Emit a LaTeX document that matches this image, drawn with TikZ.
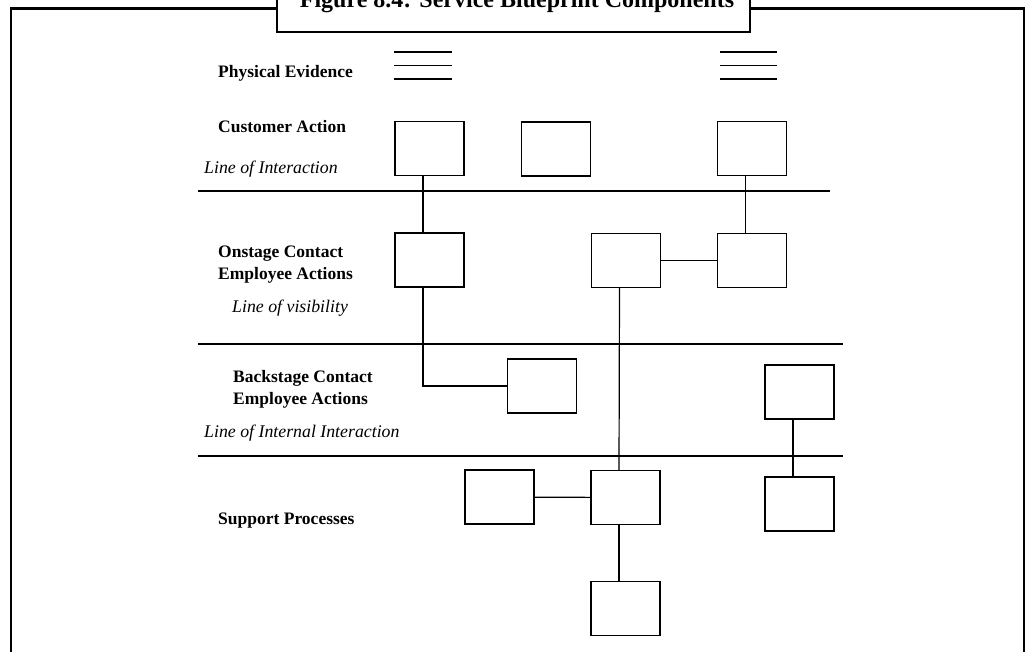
\documentclass[tikz,border=0pt]{standalone}
\usepackage{fontspec}
\setmainfont{Liberation Serif}
\usetikzlibrary{positioning}

\begin{document}
\begin{tikzpicture}[x=1pt,y=-1pt,
    blk/.style={draw,rectangle,line width=1.2pt,minimum width=69pt,minimum height=54pt,inner sep=0pt},
    lbl/.style={font=\fontsize{17.5}{21.5}\selectfont\bfseries,align=left,anchor=base west,inner sep=0pt},
    ital/.style={font=\fontsize{17.8}{21}\selectfont\itshape,anchor=base west,inner sep=0pt},
    sep/.style={line width=1.2pt}]
	  \useasboundingbox (0,0) rectangle (1027,651);
	  % frame and title
	  \draw[line width=2.2pt] (11,700) -- (11,8.5) -- (1024,8.5) -- (1024,700);
	  \draw[line width=2.2pt,fill=white] (277,-20) rectangle (750,32);
	  \node at (517,7) (title) [anchor=base,inner sep=0pt,font=\fontsize{24}{28}\selectfont\bfseries]{Figure 8.4: Service Blueprint Components};
	  % row labels
	  \node at (218,77) (pe) [lbl]{Physical Evidence};
	  \node at (218,132) (ca) [lbl]{Customer Action};
	  \node at (204,173) (li) [ital]{Line of Interaction};
	  \node at (218,279) (on) [lbl]{Onstage Contact\\Employee Actions};
	  \node at (232,312) (lv) [ital]{Line of visibility};
	  \node at (233,404) (bk) [lbl]{Backstage Contact\\Employee Actions};
	  \node at (204,437) (lii) [ital]{Line of Internal Interaction};
	  \node at (218,524) (sp) [lbl]{Support Processes};
	  % dividing lines
	  \draw[sep] (198,191) -- (830,191);
	  \draw[sep] (198,344) -- (843,344);
	  \draw[sep] (198,456) -- (843,456);
	  % physical evidence
	  \foreach \y in {52,65.5,79} {
	    \draw[sep] (394,\y) -- (452,\y);
	    \draw[sep] (720,\y) -- (777,\y);
	  }
	  % boxes
	  \node at (429.5,148.5) (ca1) [blk]{};
	  \node at (556,149) (ca2) [blk]{};
	  \node at (752,148.5) (ca3) [blk]{};
	  \node at (429.5,260) (on1) [blk]{};
	  \node at (626,260.5) (on2) [blk]{};
	  \node at (752,260.5) (on3) [blk]{};
	  \node at (542,386) (bk1) [blk]{};
	  \node at (799.5,392) (bk2) [blk]{};
	  \node at (499.5,497) (sp1) [blk]{};
	  \node at (625.5,497.5) (sp2) [blk]{};
	  \node at (625.5,608.5) (sp3) [blk]{};
	  \node at (799.5,504) (sp4) [blk]{};
	  % connectors
	  \draw[sep] ([xshift=-6.5pt]ca1.south) -- ([xshift=-6.5pt]on1.north);
	  \draw[sep] ([xshift=-6.5pt]on1.south) |- (bk1.west);
	  \draw[sep] ([xshift=-6.5pt]ca3.south) -- ([xshift=-6.5pt]on3.north);
	  \draw[sep] (on2) -- (on3);
	  \draw[sep] ([xshift=-6.5pt]on2.south) -- ([xshift=-6.5pt]sp2.north);
	  \draw[sep] (sp1) -- (sp2);
	  \draw[sep] ([xshift=-6.5pt]sp2.south) -- ([xshift=-6.5pt]sp3.north);
	  \draw[sep] ([xshift=-6.5pt]bk2.south) -- ([xshift=-6.5pt]sp4.north);
	\end{tikzpicture}
\end{document}
